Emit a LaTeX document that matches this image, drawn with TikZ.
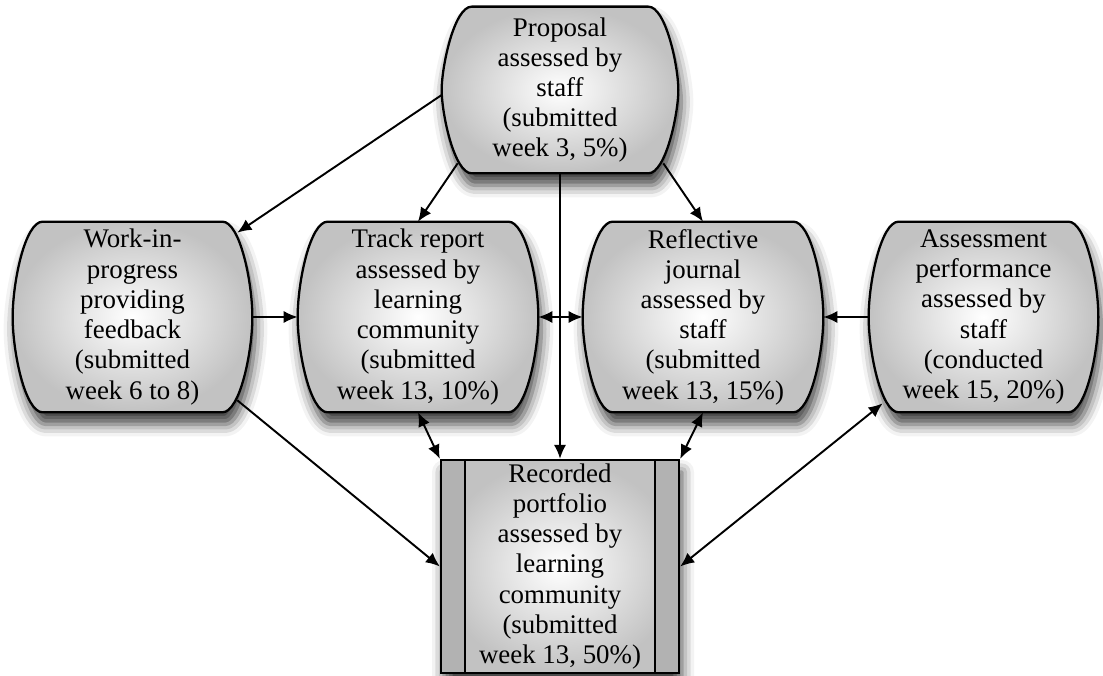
\documentclass[tikz,border=0pt]{standalone}
\usepackage{fontspec}
\setmainfont{Liberation Serif}
\usetikzlibrary{arrows.meta,backgrounds,shadows.blur}

\begin{document}
\begin{tikzpicture}[inner sep=0mm, font=\fontsize{15.3}{17.2}\selectfont,
  stage/.style={minimum width=4.78cm, minimum height=3.8cm, align=center},
  outline/.style={draw=black, line width=1.3pt, inner color=white, outer color=black!24,
    blur shadow={shadow xshift=0.06cm, shadow yshift=-0.24cm, shadow blur radius=0.24cm, shadow opacity=75}},
  link/.style={line width=1.1pt, -{Latex[length=8pt,width=7pt]}},
  both/.style={line width=1.1pt, {Latex[length=8pt,width=7pt]}-{Latex[length=8pt,width=7pt]}}]

\useasboundingbox (0,0) rectangle (22.06,-13.52);

\node(prop) at (11.2,-1.8) [stage, minimum width=4.72cm, minimum height=3.32cm] {Proposal\\assessed by\\staff\\(submitted\\week 3, 5\%)};
\node(work) at (2.65,-6.34) [stage] {Work-in-\\progress\\providing\\feedback\\(submitted\\week 6 to 8)};
\node(track) at (8.36,-6.34) [stage, minimum width=4.8cm] {Track report\\assessed by\\learning\\community\\(submitted\\week 13, 10\%)};
\node(journal) at (14.06,-6.34) [stage, minimum width=4.8cm] {Reflective\\journal\\assessed by\\staff\\(submitted\\week 13, 15\%)};
\node(assess) at (19.67,-6.34) [stage, minimum width=4.58cm] {Assessment\\performance\\assessed by\\staff\\(conducted\\week 15, 20\%)};

% portfolio box with side bars
\node(port) at (11.2,-11.33) [outline, minimum width=4.76cm, minimum height=4.26cm, align=center,
  path picture={
    \fill[black!30] (path picture bounding box.north west) rectangle ([xshift=0.48cm]path picture bounding box.south west);
    \fill[black!30] (path picture bounding box.north east) rectangle ([xshift=-0.48cm]path picture bounding box.south east);
    \draw[line width=1.3pt] ([xshift=0.48cm]path picture bounding box.north west) -- ([xshift=0.48cm]path picture bounding box.south west);
    \draw[line width=1.3pt] ([xshift=-0.48cm]path picture bounding box.north east) -- ([xshift=-0.48cm]path picture bounding box.south east);
  }] {Recorded\\portfolio\\assessed by\\learning\\community\\(submitted\\week 13, 50\%)};

\begin{scope}[on background layer]
\foreach \n in {prop,work,track,journal,assess}
  \path[outline] ([xshift=0.6cm]\n.north west) -- ([xshift=-0.6cm]\n.north east)
    .. controls ([xshift=-0.25cm]\n.north east) and ([yshift=-1.2cm]\n.north east) .. (\n.east)
    .. controls ([yshift=1.2cm]\n.south east) and ([xshift=-0.25cm]\n.south east) .. ([xshift=-0.6cm]\n.south east)
    -- ([xshift=0.6cm]\n.south west)
    .. controls ([xshift=0.25cm]\n.south west) and ([yshift=1.2cm]\n.south west) .. (\n.west)
    .. controls ([yshift=-1.2cm]\n.north west) and ([xshift=0.25cm]\n.north west) .. ([xshift=0.6cm]\n.north west) -- cycle;
\end{scope}

\draw[link] ([yshift=-0.1cm]prop.west) -- ([shift={(-0.3,-0.22)}]work.north east);
\draw[link] ([shift={(0.32,0.2)}]prop.south west) -- (track.north);
\draw[link] ([shift={(-0.3,0.2)}]prop.south east) -- (journal.north);
\draw[link] (prop.south) -- (port.north);
\draw[link] (work.east) -- (track.west);
\draw[both] (track.east) -- (journal.west);
\draw[link] (assess.west) -- (journal.east);
\draw[both] (track.south) -- (port.north west);
\draw[both] (journal.south) -- (port.north east);
\draw[link] ([shift={(-0.3,0.24)}]work.south east) -- (port.west);
\draw[both] ([shift={(0.28,0.18)}]assess.south west) -- (port.east);

\end{tikzpicture}
\end{document}
